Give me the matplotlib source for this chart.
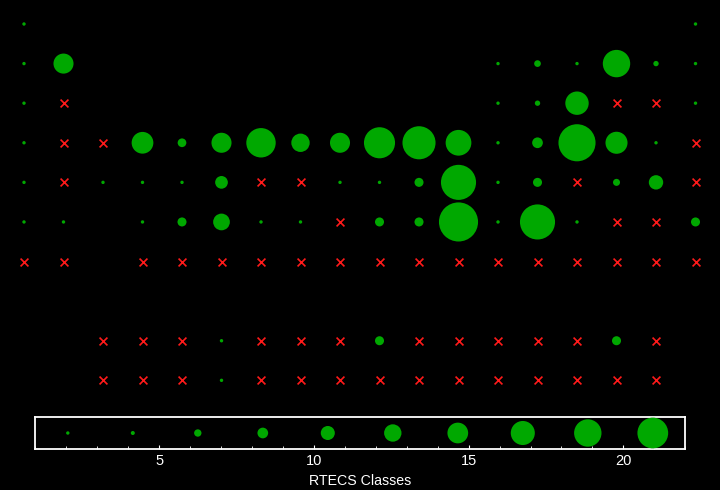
import numpy as np
import matplotlib
matplotlib.use("Agg")
import matplotlib.pyplot as plt

N = None   # empty cell
X = "x"    # cross (not significant)

# rows from top to bottom, 18 columns each; numbers = circle magnitude
row0 = [1, N, N, N, N, N, N, N, N, N, N, N, N, N, N, N, N, 1]
row1 = [1, 6.8, N, N, N, N, N, N, N, N, N, N, 1, 2.8, 1, 9.0, 2.4, 1]
row2 = [1, X, N, N, N, N, N, N, N, N, N, N, 1, 2.4, 7.8, X, X, 1]
row3 = [1, X, X, 7.3, 3.4, 6.8, 9.6, 6.3, 6.8, 10.1, 10.7, 8.5, 1, 4.0, 11.9, 7.4, 1, X]
row4 = [1, X, 1, 1, 1, 4.6, X, X, 1, 1, 3.5, 11.3, 1, 3.5, X, 2.9, 5.1, X]
row5 = [1, 1, N, 1, 3.5, 5.8, 1, 1, X, 3.5, 3.5, 12.5, 1, 11.3, 1, X, X, 3.5]
row6 = [X, X, N, X, X, X, X, X, X, X, X, X, X, X, X, X, X, X]
row7 = [N] * 18
row8 = [N, N, X, X, X, 1, X, X, X, 3.5, X, X, X, X, X, 3.5, X, N]
row9 = [N, N, X, X, X, 1, X, X, X, X, X, X, X, X, X, X, X, N]
rows = [row0, row1, row2, row3, row4, row5, row6, row7, row8, row9]

legend_values = [1, 2, 3, 4, 5, 6, 7, 8, 9, 10]
xticks = [5, 10, 15, 20]
xlabel = "RTECS Classes"

GREEN = "#00a800"
RED = "#ff1a1a"
DPI = 100


def size_of(v):
    r_px = max(1.7, 1.67 * v - 1.33)
    d_pt = 2 * r_px * 72.0 / DPI
    return d_pt ** 2


fig = plt.figure(figsize=(7.2, 4.9), dpi=DPI, facecolor="black")

ax = fig.add_axes([0, 0, 1, 1])
ax.set_facecolor("black")
ax.set_xlim(-0.6076, 17.62)
ax.set_ylim(11.77, -0.606)
ax.axis("off")

gx, gy, gs, cx, cy = [], [], [], [], []
for r, row in enumerate(rows):
    for c, val in enumerate(row):
        if val is None:
            continue
        if val == X:
            cx.append(c)
            cy.append(r)
        else:
            gx.append(c)
            gy.append(r)
            gs.append(size_of(val))
ax.scatter(gx, gy, s=gs, c=GREEN, linewidths=0, zorder=3)
ax.scatter(cx, cy, s=32, marker="x", c=RED, linewidths=1.2, zorder=3)

# legend / axis box
lax = fig.add_axes([35.3 / 720, 41 / 490, 650 / 720, 32 / 490])
lax.set_facecolor("black")
lax.set_xlim(1, 22)
lax.set_ylim(0, 1)
for sp in lax.spines.values():
    sp.set_color("white")
    sp.set_linewidth(1.3)
lax.set_yticks([])
lax.set_xticks(xticks)
lax.set_xticks(np.arange(1, 23), minor=True)
lax.tick_params(axis="x", which="major", direction="in", length=3, width=0.8,
                colors="white", labelsize=10.5, pad=3.5)
lax.tick_params(axis="x", which="minor", direction="in", length=2, width=0.6,
                colors="white")
for lbl in lax.get_xticklabels():
    lbl.set_fontfamily("Liberation Sans")
lax.set_xlabel(xlabel, color="white", fontsize=10.2, family="Liberation Sans",
               labelpad=4.5)

n = len(legend_values)
lx = [(i + 0.5) / n for i in range(n)]
lax.scatter(lx, [0.5] * n, s=[size_of(v) for v in legend_values], c=GREEN,
            linewidths=0, transform=lax.transAxes, clip_on=False, zorder=3)

fig.savefig("out.png", dpi=DPI, facecolor="black")
